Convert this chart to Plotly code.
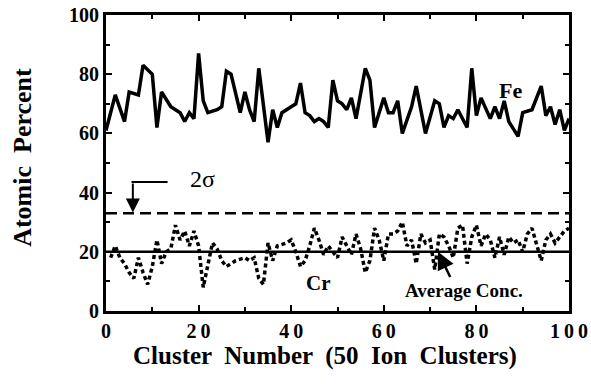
import plotly.graph_objects as go

# Fe composition (cluster number, atomic percent)
fe_x = [0, 2, 4, 5, 7, 8, 10, 11, 12, 14, 16, 17, 18, 19, 20, 21, 22, 24, 25, 26, 27, 29, 30, 31, 32, 33,
        35, 36, 37, 38, 40, 41, 42, 43, 44, 45, 46, 47, 48, 49, 50, 51, 52, 53, 54, 56, 57, 58, 60, 61,
        62, 63, 64, 66, 67, 69, 71, 72, 73, 74, 75, 76, 78, 79, 80, 81, 83, 84, 85, 86, 87, 89, 90, 92,
        94, 95, 96, 97, 98, 99, 100]
fe_y = [61, 73, 64, 74, 73, 83, 80, 62, 74, 69, 67, 64, 67, 65, 87, 71, 67, 68, 69, 81, 80, 67, 74, 68, 64, 82,
        57, 68, 62, 67, 69, 70, 77, 67, 66, 64, 65, 64, 62, 78, 71, 70, 68, 72, 65, 82, 78, 62, 72, 67,
        67, 71, 60, 69, 76, 60, 71, 70, 62, 66, 65, 68, 62, 82, 66, 72, 65, 69, 65, 71, 64, 59, 67, 68,
        76, 66, 69, 63, 68, 61, 65]

# Cr composition (cluster number, atomic percent)
cr_x = [1, 2, 3, 4, 5, 6, 7, 8, 9, 10, 11, 12, 13, 14, 15, 16, 17, 18, 19, 20, 21, 23, 24, 25, 26, 28, 30,
        31, 32, 33, 34, 35, 36, 37, 39, 40, 41, 42, 43, 44, 45, 46, 47, 48, 50, 51, 52, 53, 54, 55, 56,
        57, 58, 59, 60, 61, 62, 63, 64, 65, 66, 67, 68, 69, 70, 71, 72, 73, 74, 75, 76, 77, 78, 79, 80,
        81, 82, 83, 84, 85, 86, 87, 88, 89, 90, 91, 92, 93, 94, 95, 96, 97, 98, 99, 100]
cr_y = [18, 22, 18, 16, 13, 11, 18, 13, 9, 15, 24, 16, 20, 21, 29, 24, 27, 22, 27, 22, 8, 23, 21, 17, 15, 17, 18,
        17, 18, 11, 9, 23, 17, 22, 23, 24, 20, 15, 17, 22, 28, 24, 19, 22, 18, 25, 22, 19, 26, 21, 13,
        17, 28, 24, 17, 26, 26, 27, 30, 22, 24, 16, 26, 23, 24, 14, 26, 25, 22, 18, 28, 29, 16, 25, 29,
        22, 26, 24, 18, 25, 19, 25, 23, 24, 20, 26, 28, 22, 17, 24, 26, 23, 25, 27, 28]

avg_conc = 20
two_sigma = 33

x_ticks = [0, 20, 40, 60, 80, 100]
x_ticklabels = ["0", "2\u20090", "4\u20090", "6\u20090", "8\u20090", "1\u20090\u20090"]
y_ticks = [0, 20, 40, 60, 80, 100]

FONT = "Liberation Serif"

fig = go.Figure()
fig.add_trace(go.Scatter(x=fe_x, y=fe_y, mode="lines",
                         line=dict(color="black", width=3.5), showlegend=False))
fig.add_trace(go.Scatter(x=cr_x, y=cr_y, mode="lines",
                         line=dict(color="black", width=3.5, dash="4px,3px"), showlegend=False))
fig.add_trace(go.Scatter(x=[0, 100], y=[avg_conc, avg_conc], mode="lines",
                         line=dict(color="black", width=2.5), showlegend=False))
fig.add_trace(go.Scatter(x=[0, 100], y=[two_sigma, two_sigma], mode="lines",
                         line=dict(color="black", width=2.5, dash="11px,6px"), showlegend=False))

# 2 sigma bracket
fig.add_trace(go.Scatter(x=[5.5, 13.3], y=[43.6, 43.6], mode="lines",
                         line=dict(color="black", width=2), showlegend=False))
fig.add_annotation(x=5.8, y=two_sigma + 0.3, ax=5.8, ay=43.6, xref="x", yref="y", axref="x", ayref="y",
                   text="", showarrow=True, arrowhead=2, arrowsize=1.4, arrowwidth=2, arrowcolor="black")
fig.add_annotation(x=20.8, y=44.5, text="2σ", showarrow=False,
                   font=dict(family=FONT, size=24, color="black"))

fig.add_annotation(x=87.3, y=74.5, text="<b>Fe</b>", showarrow=False,
                   font=dict(family=FONT, size=22, color="black"))
fig.add_annotation(x=45.8, y=9.5, text="<b>Cr</b>", showarrow=False,
                   font=dict(family=FONT, size=21, color="black"))
fig.add_annotation(x=77.3, y=6.8, text="<b>Average Conc.</b>", showarrow=False,
                   font=dict(family=FONT, size=19, color="black"))
fig.add_annotation(x=71.7, y=20, ax=74.5, ay=11, xref="x", yref="y", axref="x", ayref="y",
                   text="", showarrow=True, arrowhead=2, arrowsize=1.4, arrowwidth=2.5, arrowcolor="black")

# axis titles
fig.add_annotation(x=0.473, y=-0.152, xref="paper", yref="paper", text="<b>Cluster  Number  (50  Ion  Clusters)</b>",
                   showarrow=False, yanchor="middle", font=dict(family=FONT, size=25, color="black"))
fig.add_annotation(x=-0.182, y=0.52, xref="paper", yref="paper", text="<b>Atomic  Percent</b>", textangle=-90,
                   showarrow=False, xanchor="center", font=dict(family=FONT, size=26, color="black"))

axis_common = dict(showline=True, linecolor="black", linewidth=3, mirror="ticks",
                   ticks="inside", ticklen=6, tickwidth=2, tickcolor="black",
                   showgrid=False, zeroline=False, automargin=False,
                   tickfont=dict(family=FONT, size=20, color="black", weight="bold"))

fig.update_xaxes(range=[0, 100], tickvals=x_ticks, ticktext=x_ticklabels,
                 minor=dict(dtick=10, tick0=0, ticks="inside", ticklen=4, tickwidth=2, tickcolor="black"),
                 **axis_common)
fig.update_yaxes(range=[0, 100], tickvals=y_ticks, ticktext=[str(v) for v in y_ticks],
                 minor=dict(dtick=10, tick0=0, ticks="inside", ticklen=4, tickwidth=2, tickcolor="black"),
                 **axis_common)

fig.update_layout(width=591, height=384, margin=dict(l=106, r=22, t=15, b=73),
                  plot_bgcolor="white", paper_bgcolor="white")

fig.write_html("out.html", config={"displayModeBar": False},
               post_script="document.body.style.margin='0';")
